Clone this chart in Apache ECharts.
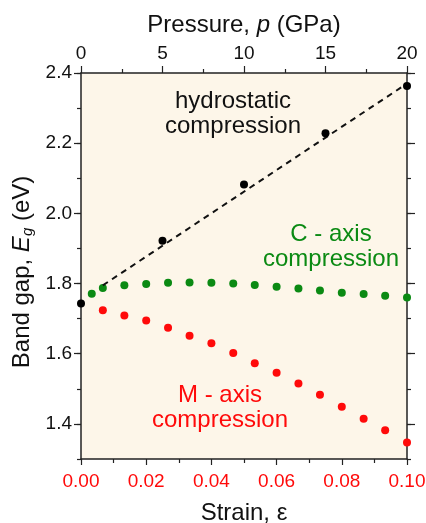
<!DOCTYPE html>
<html>
<head>
<meta charset="utf-8">
<script src="https://cdn.jsdelivr.net/npm/echarts@6/dist/echarts.min.js"></script>
<style>
  html, body { margin: 0; padding: 0; background: #fff; }
  #chart { width: 426px; height: 523px; }
</style>
</head>
<body>
<div id="chart"></div>
<script>
// ── data ──
const hydroPressure = [0, 5, 10, 15, 20];
const hydroGap = [1.743, 1.922, 2.082, 2.228, 2.363];

const fitStrain = [0.0067, 0.1];
const fitGap = [1.795, 2.37];

const cStrain = [0.0033, 0.0067, 0.0133, 0.02, 0.0267, 0.0333, 0.04, 0.0467, 0.0533, 0.06, 0.0667, 0.0733, 0.08, 0.0867, 0.0933, 0.1];
const cGap = [1.771, 1.787, 1.795, 1.799, 1.802, 1.803, 1.802, 1.800, 1.796, 1.791, 1.786, 1.780, 1.774, 1.770, 1.765, 1.760];

const mStrain = [0.0067, 0.0133, 0.02, 0.0267, 0.0333, 0.04, 0.0467, 0.0533, 0.06, 0.0667, 0.0733, 0.08, 0.0867, 0.0933, 0.1];
const mGap = [1.724, 1.709, 1.695, 1.674, 1.651, 1.630, 1.602, 1.573, 1.546, 1.515, 1.483, 1.449, 1.415, 1.382, 1.347];

const gapTicks = [1.4, 1.6, 1.8, 2.0, 2.2, 2.4];

const FONT = "'Liberation Sans', Arial, sans-serif";
const GREEN = '#0b8a13';
const RED = '#ff0a0a';
const AXIS = '#222';

const chart = echarts.init(document.getElementById('chart'));

const yBase = { type: 'value', min: 1.3, max: 2.4, splitLine: { show: false } };

chart.setOption({
  animation: false,
  grid: {
    left: 81, right: 19, top: 73, bottom: 64,
    outerBoundsMode: 'none',
    show: true, backgroundColor: '#fdf6e9', borderWidth: 0
  },
  xAxis: [
    {
      type: 'value', position: 'bottom', min: 0, max: 0.1, interval: 0.02,
      axisLine: { lineStyle: { color: AXIS, width: 1.5 } },
      axisTick: { length: 6, lineStyle: { color: AXIS, width: 1.2 } },
      minorTick: { show: true, splitNumber: 2, length: 4, lineStyle: { color: AXIS, width: 1.2 } },
      splitLine: { show: false },
      axisLabel: { color: RED, fontSize: 19, fontFamily: FONT, margin: 13, formatter: (v) => v.toFixed(2) },
      name: 'Strain, ε', nameLocation: 'middle', nameGap: 42,
      nameTextStyle: { color: '#111', fontSize: 24, fontFamily: FONT }
    },
    {
      type: 'value', position: 'top', min: 0, max: 20, interval: 5,
      axisLine: { lineStyle: { color: AXIS, width: 1.5 } },
      axisTick: { length: 7, lineStyle: { color: AXIS, width: 1.2 } },
      minorTick: { show: true, splitNumber: 2, length: 4, lineStyle: { color: AXIS, width: 1.2 } },
      splitLine: { show: false },
      axisLabel: { color: '#111', fontSize: 19, fontFamily: FONT, margin: 10 },
      name: '{a|Pressure, }{i|p}{a| (GPa)}', nameLocation: 'middle', nameGap: 36,
      nameTextStyle: {
        color: '#111', fontSize: 24, fontFamily: FONT,
        rich: {
          a: { fontSize: 24, fontFamily: FONT, color: '#111' },
          i: { fontSize: 24, fontFamily: FONT, color: '#111', fontStyle: 'italic' }
        }
      }
    }
  ],
  yAxis: [
    Object.assign({}, yBase, {
      position: 'left',
      axisLine: { show: true, lineStyle: { color: AXIS, width: 1.5 } },
      axisTick: { show: true, length: 7, customValues: gapTicks, lineStyle: { color: AXIS, width: 1.2 } },
      axisLabel: { color: '#111', fontSize: 19, fontFamily: FONT, margin: 9, customValues: gapTicks, formatter: (v) => v.toFixed(1) }
    }),
    Object.assign({}, yBase, {
      position: 'left', interval: 0.1,
      axisLine: { show: false },
      axisTick: { show: true, length: 4, lineStyle: { color: AXIS, width: 1.2 } },
      axisLabel: { show: false }
    }),
    Object.assign({}, yBase, {
      position: 'right',
      axisLine: { show: true, lineStyle: { color: AXIS, width: 1.5 } },
      axisTick: { show: true, length: 8, customValues: gapTicks, lineStyle: { color: AXIS, width: 1.2 } },
      axisLabel: { show: false }
    }),
    Object.assign({}, yBase, {
      position: 'right', interval: 0.1,
      axisLine: { show: false },
      axisTick: { show: true, length: 4, lineStyle: { color: AXIS, width: 1.2 } },
      axisLabel: { show: false }
    })
  ],
  graphic: [
    {
      type: 'text', x: 22, y: 272, rotation: Math.PI / 2,
      style: {
        text: '{a|Band gap, }{i|E}{s|g}{a| (eV)}',
        align: 'center', verticalAlign: 'middle',
        rich: {
          a: { fontSize: 24, fontFamily: FONT, fill: '#111' },
          i: { fontSize: 24, fontFamily: FONT, fill: '#111', fontStyle: 'italic' },
          s: { fontSize: 15, fontFamily: FONT, fill: '#111', fontStyle: 'italic', padding: [12, 0, 0, 0] }
        }
      }
    },
    {
      type: 'text', x: 233, y: 114, z: 10,
      style: { text: 'hydrostatic\ncompression', align: 'center', verticalAlign: 'middle', fontSize: 24, lineHeight: 25, fontFamily: FONT, fill: '#111' }
    },
    {
      type: 'text', x: 331, y: 247, z: 10,
      style: { text: 'C - axis\ncompression', align: 'center', verticalAlign: 'middle', fontSize: 24, lineHeight: 25, fontFamily: FONT, fill: GREEN }
    },
    {
      type: 'text', x: 220, y: 408, z: 10,
      style: { text: 'M - axis\ncompression', align: 'center', verticalAlign: 'middle', fontSize: 24, lineHeight: 25, fontFamily: FONT, fill: RED }
    }
  ],
  series: [
    {
      name: 'C-axis', type: 'scatter', xAxisIndex: 0, yAxisIndex: 0,
      symbolSize: 8, itemStyle: { color: GREEN, opacity: 1 },
      data: cStrain.map((x, i) => [x, cGap[i]]), z: 2
    },
    {
      name: 'M-axis', type: 'scatter', xAxisIndex: 0, yAxisIndex: 0,
      symbolSize: 8, itemStyle: { color: RED, opacity: 1 },
      data: mStrain.map((x, i) => [x, mGap[i]]), z: 2
    },
    {
      name: 'fit', type: 'line', xAxisIndex: 0, yAxisIndex: 0,
      showSymbol: false, lineStyle: { color: '#111', width: 2, type: [6, 5] },
      data: fitStrain.map((x, i) => [x, fitGap[i]]), z: 3
    },
    {
      name: 'hydrostatic', type: 'scatter', xAxisIndex: 1, yAxisIndex: 0,
      symbolSize: 8, itemStyle: { color: '#000', opacity: 1 },
      data: hydroPressure.map((x, i) => [x, hydroGap[i]]), z: 4
    }
  ]
});
</script>
</body>
</html>
